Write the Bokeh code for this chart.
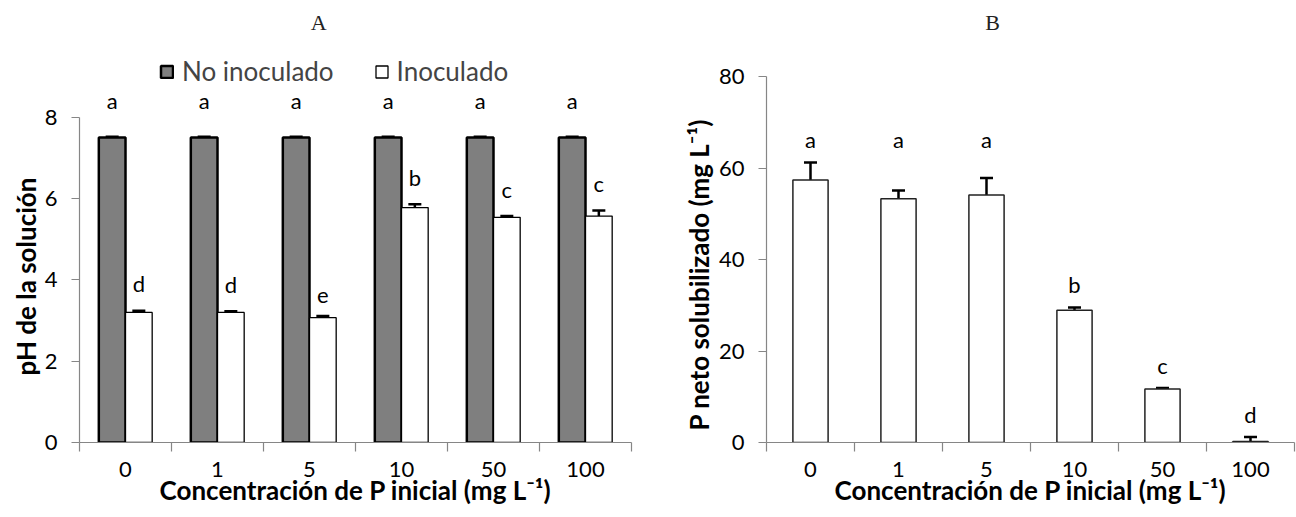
from bokeh.plotting import figure
from bokeh.models import Range1d, FixedTicker, Whisker, TeeHead, ColumnDataSource, Label, Title
from bokeh.layouts import row
from bokeh.embed import file_html
from bokeh.resources import INLINE
from bokeh.core.properties import value
import numpy as np

# ---------------- data ----------------
categories = ["0", "1", "5", "10", "50", "100"]

ph_no_inoc = [7.50, 7.50, 7.50, 7.50, 7.50, 7.50]
ph_no_inoc_err = [0.02, 0.02, 0.02, 0.02, 0.02, 0.02]
ph_inoc = [3.20, 3.20, 3.07, 5.78, 5.54, 5.57]
ph_inoc_err = [0.04, 0.03, 0.04, 0.08, 0.03, 0.14]
letters_no_inoc = ["a", "a", "a", "a", "a", "a"]
letters_inoc = ["d", "d", "e", "b", "c", "c"]

p_net = [57.4, 53.3, 54.1, 28.9, 11.7, 0.2]
p_net_err = [3.8, 1.8, 3.7, 0.6, 0.2, 1.0]
letters_p = ["a", "a", "a", "b", "c", "d"]

yticks_a = [0, 2, 4, 6, 8]
yticks_b = [0, 20, 40, 60, 80]

panel_titles = ["A", "B"]
series_names = ["No inoculado", "Inoculado"]
xlabel = "Concentración de P inicial (mg L⁻¹)"
ylabel_a = "pH de la solución"
ylabel_b = "P neto solubilizado (mg L⁻¹)"

# ---------------- style ----------------
FONT = "Lato"
TITLE_FONT = "Liberation Serif"
AXIS_COLOR = "#868686"
TICK_FS = "22px"
LAB_FS = "26px"
LET_FS = "22px"
LEG_FS = "26px"
H = 516

n = len(categories)
centers = np.arange(n) + 0.5
bounds = list(range(n + 1))


def letter_heights(tops, errs, letters, pad):
    tops = np.array(tops) + np.array(errs)
    out = []
    for lt in letters:
        grp = [t for t, l in zip(tops, letters) if l == lt]
        out.append(max(grp) + pad)
    return out


def style_axes(p, yticks, ylabel, ylab_offset, ylab_standoff):
    p.xgrid.visible = False
    p.ygrid.visible = False
    p.outline_line_color = None
    p.background_fill_color = "white"

    xa = p.xaxis[0]
    xa.ticker = FixedTicker(ticks=list(centers), minor_ticks=bounds)
    xa.major_label_overrides = {float(c): lab for c, lab in zip(centers, categories)}
    xa.major_tick_line_color = None
    xa.major_tick_out = 0
    xa.major_tick_in = 0
    xa.minor_tick_line_color = AXIS_COLOR
    xa.minor_tick_line_width = 1.2
    xa.minor_tick_out = 9
    xa.minor_tick_in = 0
    xa.axis_line_color = AXIS_COLOR
    xa.axis_line_width = 1.2
    xa.major_label_text_font = FONT
    xa.major_label_text_font_size = TICK_FS
    xa.major_label_text_color = "black"
    xa.major_label_standoff = 10
    xa.axis_label = xlabel
    xa.axis_label_text_font = FONT
    xa.axis_label_text_font_size = LAB_FS
    xa.axis_label_text_font_style = "bold"
    xa.axis_label_text_color = "black"
    xa.axis_label_standoff = -6

    ya = p.yaxis[0]
    ya.ticker = FixedTicker(ticks=yticks)
    ya.bounds = (yticks[0], yticks[-1])
    ya.minor_tick_line_color = None
    ya.major_tick_line_color = AXIS_COLOR
    ya.major_tick_line_width = 1.2
    ya.major_tick_out = 8
    ya.major_tick_in = 0
    ya.axis_line_color = AXIS_COLOR
    ya.axis_line_width = 1.2
    ya.major_label_text_font = FONT
    ya.major_label_text_font_size = TICK_FS
    ya.major_label_text_color = "black"
    ya.major_label_standoff = 14

    # y-axis title placed along the 0..max part of the axis (as in the reference)
    p.add_layout(Title(text=ylabel, align="left", offset=ylab_offset, standoff=ylab_standoff,
                       text_font=FONT, text_font_size=LAB_FS, text_font_style="bold",
                       text_color="black"), "left")


def add_title(p, text, x, y):
    p.add_layout(Label(x=x, y=y, text=text, text_align="center", text_baseline="middle",
                       text_font=TITLE_FONT, text_font_size="22px", text_color="#222222"))


# ---------------- panel A ----------------
pa = figure(width=660, height=H, x_range=Range1d(0, n), y_range=Range1d(0, 10.873),
            output_backend="svg", toolbar_location=None,
            min_border_left=79, min_border_right=29, min_border_top=0, min_border_bottom=74)
style_axes(pa, yticks_a, ylabel_a, 67, 0)
add_title(pa, panel_titles[0], 2.6, 10.33)

wa = 0.29
x_no = centers - wa / 2
x_in = centers + wa / 2

src_no = ColumnDataSource(dict(x=x_no, top=ph_no_inoc,
                               upper=np.array(ph_no_inoc) + np.array(ph_no_inoc_err),
                               lower=np.array(ph_no_inoc) - np.array(ph_no_inoc_err)))
src_in = ColumnDataSource(dict(x=x_in, top=ph_inoc,
                               upper=np.array(ph_inoc) + np.array(ph_inoc_err),
                               lower=np.array(ph_inoc) - np.array(ph_inoc_err)))

pa.vbar(x="x", top="top", bottom=0, width=wa, source=src_no, fill_color="#7f7f7f",
        line_color="black", line_width=2.5, legend_label=series_names[0])
pa.vbar(x="x", top="top", bottom=0, width=wa, source=src_in, fill_color="white",
        line_color="black", line_width=1.3, legend_label=series_names[1])

for src in (src_no, src_in):
    pa.add_layout(Whisker(base="x", upper="upper", lower="lower", source=src,
                          line_color="black", line_width=2.5,
                          upper_head=TeeHead(size=13, line_width=2.5, line_color="black"),
                          lower_head=TeeHead(size=13, line_width=2.5, line_color="black")))

lab_no_y = letter_heights(ph_no_inoc, ph_no_inoc_err, letters_no_inoc, 0.56)
lab_in_y = np.array(ph_inoc) + np.array(ph_inoc_err) + 0.33
pa.text(x=x_no, y=lab_no_y, text=letters_no_inoc, text_align="center",
        text_baseline="bottom", text_font=value(FONT), text_font_size=LET_FS, text_color="black")
pa.text(x=x_in, y=lab_in_y, text=letters_inoc, text_align="center",
        text_baseline="bottom", text_font=value(FONT), text_font_size=LET_FS, text_color="black")

lg = pa.legend[0]
lg.location = (80, 355)
lg.orientation = "horizontal"
lg.border_line_color = None
lg.background_fill_alpha = 0
lg.label_text_font = FONT
lg.label_text_font_size = LEG_FS
lg.glyph_width = 15
lg.glyph_height = 15
lg.spacing = 40
lg.label_standoff = 8
lg.margin = 0
lg.padding = 4

# ---------------- panel B ----------------
pb = figure(width=636, height=H, x_range=Range1d(0, n), y_range=Range1d(0, 96.63),
            output_backend="svg", toolbar_location=None,
            min_border_left=106, min_border_right=2, min_border_top=0, min_border_bottom=74)
style_axes(pb, yticks_b, ylabel_b, 12, 2)
add_title(pb, panel_titles[1], 2.57, 91.8)

wb = 0.4
src_b = ColumnDataSource(dict(x=centers, top=p_net,
                              upper=np.array(p_net) + np.array(p_net_err),
                              lower=np.array(p_net) - np.array(p_net_err)))
pb.vbar(x="x", top="top", bottom=0, width=wb, source=src_b, fill_color="white",
        line_color="#222222", line_width=1.5)
pb.add_layout(Whisker(base="x", upper="upper", lower="lower", source=src_b,
                      line_color="black", line_width=2.5,
                      upper_head=TeeHead(size=13, line_width=2.5, line_color="black"),
                      lower_head=TeeHead(size=13, line_width=2.5, line_color="black")))
lab_b_y = letter_heights(p_net, p_net_err, letters_p, 2.0)
pb.text(x=centers, y=lab_b_y, text=letters_p, text_align="center", text_baseline="bottom",
        text_font=value(FONT), text_font_size=LET_FS, text_color="black")

layout = row(pa, pb)
open("out.html", "w").write(file_html(layout, INLINE))
